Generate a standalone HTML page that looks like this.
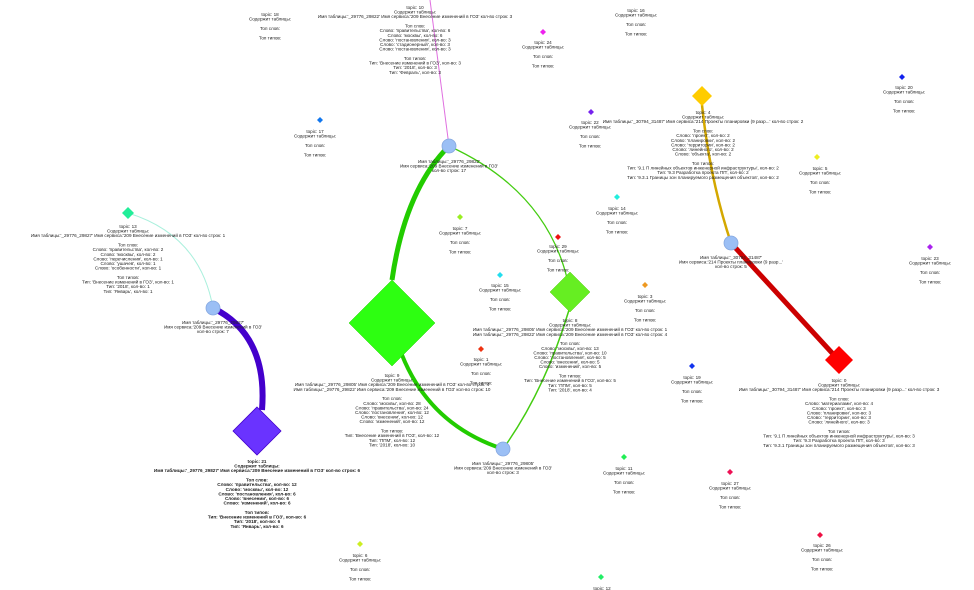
<!DOCTYPE html>
<html><head><meta charset="utf-8"><style>
html,body{margin:0;padding:0;background:#fff;width:974px;height:590px;overflow:hidden}
svg text{font-family:"Liberation Sans",sans-serif;font-size:4.6px;fill:#222;text-anchor:middle}
</style></head><body>
<svg width="974" height="590" viewBox="0 0 974 590" xmlns="http://www.w3.org/2000/svg">
<!-- edges -->
<path d="M449,146 L430,0" stroke="#e070e0" stroke-width="1" fill="none"/>
<path d="M449,146 Q405,190 392,280" stroke="#22cc00" stroke-width="5" fill="none"/>
<path d="M449,146 Q545,190 567,278" stroke="#44cc11" stroke-width="1.3" fill="none"/>
<path d="M402,355 Q430,425 503,449" stroke="#22cc00" stroke-width="4" fill="none"/>
<path d="M503,449 Q545,390 569,310" stroke="#44cc11" stroke-width="1.5" fill="none"/>
<path d="M213,308 Q268,335 262,410" stroke="#4400cc" stroke-width="6" fill="none"/>
<path d="M128,213 Q200,235 213,308" stroke="#aaf0dd" stroke-width="1" fill="none"/>
<path d="M702,105 Q710,180 731,243" stroke="#d4a800" stroke-width="2.5" fill="none"/>
<path d="M731,243 L833,354" stroke="#cc0000" stroke-width="5" fill="none"/>
<!-- circles -->
<g fill="#9bbff5" stroke="#86a8e0" stroke-width="0.8">
<circle cx="449" cy="146" r="7"/><circle cx="213" cy="308" r="7"/><circle cx="503" cy="449" r="7"/><circle cx="731" cy="243" r="7"/>
</g>
<!-- diamonds -->
<polygon points="392,280 435,323 392,366 349,323" fill="#2dff11" stroke="#22cc00" stroke-width="0.5"/>
<polygon points="570,272 590,292 570,312 550,292" fill="#66ee22" stroke="#55cc11" stroke-width="0.5"/>
<polygon points="257,407 281,431 257,455 233,431" fill="#6a33ff" stroke="#4400cc" stroke-width="0.8"/>
<polygon points="839,346 853,360 839,374 825,360" fill="#ff0000"/>
<polygon points="702,86 712,96 702,106 692,96" fill="#ffcc00"/>
<polygon points="128,207 134,213 128,219 122,213" fill="#22ee99"/>
<g>
<polygon points="543,29 546,32 543,35 540,32" fill="#ee22ee"/>
<polygon points="320,117 323,120 320,123 317,120" fill="#1177ee"/>
<polygon points="591,109 594,112 591,115 588,112" fill="#7722ee"/>
<polygon points="902,74 905,77 902,80 899,77" fill="#1122ee"/>
<polygon points="817,154 820,157 817,160 814,157" fill="#eeee22"/>
<polygon points="617,194 620,197 617,200 614,197" fill="#22eedd"/>
<polygon points="460,214 463,217 460,220 457,217" fill="#99ee22"/>
<polygon points="558,234 561,237 558,240 555,237" fill="#ee1111"/>
<polygon points="930,244 933,247 930,250 927,247" fill="#aa22ee"/>
<polygon points="500,272 503,275 500,278 497,275" fill="#22ddee"/>
<polygon points="645,282 648,285 645,288 642,285" fill="#ee9922"/>
<polygon points="481,346 484,349 481,352 478,349" fill="#ee3311"/>
<polygon points="692,363 695,366 692,369 689,366" fill="#1133ee"/>
<polygon points="624,454 627,457 624,460 621,457" fill="#22ee55"/>
<polygon points="730,469 733,472 730,475 727,472" fill="#ee1155"/>
<polygon points="820,532 823,535 820,538 817,535" fill="#ee1144"/>
<polygon points="360,541 363,544 360,547 357,544" fill="#ccee22"/>
<polygon points="601,574 604,577 601,580 598,577" fill="#22ee66"/>
</g>
<!-- simple labels -->
<text x="270" y="16">topic: 18<tspan x="270" dy="4.6">Содержит таблицы:</tspan><tspan x="270" dy="9.4">Топ слов:</tspan><tspan x="270" dy="9.4">Топ типов:</tspan></text>
<text x="636" y="12">topic: 16<tspan x="636" dy="4.6">Содержит таблицы:</tspan><tspan x="636" dy="9.4">Топ слов:</tspan><tspan x="636" dy="9.4">Топ типов:</tspan></text>
<text x="543" y="44">topic: 24<tspan x="543" dy="4.6">Содержит таблицы:</tspan><tspan x="543" dy="9.4">Топ слов:</tspan><tspan x="543" dy="9.4">Топ типов:</tspan></text>
<text x="315" y="133">topic: 17<tspan x="315" dy="4.6">Содержит таблицы:</tspan><tspan x="315" dy="9.4">Топ слов:</tspan><tspan x="315" dy="9.4">Топ типов:</tspan></text>
<text x="590" y="124">topic: 22<tspan x="590" dy="4.6">Содержит таблицы:</tspan><tspan x="590" dy="9.4">Топ слов:</tspan><tspan x="590" dy="9.4">Топ типов:</tspan></text>
<text x="904" y="89">topic: 20<tspan x="904" dy="4.6">Содержит таблицы:</tspan><tspan x="904" dy="9.4">Топ слов:</tspan><tspan x="904" dy="9.4">Топ типов:</tspan></text>
<text x="820" y="170">topic: 5<tspan x="820" dy="4.6">Содержит таблицы:</tspan><tspan x="820" dy="9.4">Топ слов:</tspan><tspan x="820" dy="9.4">Топ типов:</tspan></text>
<text x="617" y="210">topic: 14<tspan x="617" dy="4.6">Содержит таблицы:</tspan><tspan x="617" dy="9.4">Топ слов:</tspan><tspan x="617" dy="9.4">Топ типов:</tspan></text>
<text x="460" y="230">topic: 7<tspan x="460" dy="4.6">Содержит таблицы:</tspan><tspan x="460" dy="9.4">Топ слов:</tspan><tspan x="460" dy="9.4">Топ типов:</tspan></text>
<text x="558" y="248">topic: 29<tspan x="558" dy="4.6">Содержит таблицы:</tspan><tspan x="558" dy="9.4">Топ слов:</tspan><tspan x="558" dy="9.4">Топ типов:</tspan></text>
<text x="930" y="260">topic: 23<tspan x="930" dy="4.6">Содержит таблицы:</tspan><tspan x="930" dy="9.4">Топ слов:</tspan><tspan x="930" dy="9.4">Топ типов:</tspan></text>
<text x="500" y="287">topic: 15<tspan x="500" dy="4.6">Содержит таблицы:</tspan><tspan x="500" dy="9.4">Топ слов:</tspan><tspan x="500" dy="9.4">Топ типов:</tspan></text>
<text x="645" y="298">topic: 3<tspan x="645" dy="4.6">Содержит таблицы:</tspan><tspan x="645" dy="9.4">Топ слов:</tspan><tspan x="645" dy="9.4">Топ типов:</tspan></text>
<text x="481" y="361">topic: 1<tspan x="481" dy="4.6">Содержит таблицы:</tspan><tspan x="481" dy="9.4">Топ слов:</tspan><tspan x="481" dy="9.4">Топ типов:</tspan></text>
<text x="692" y="379">topic: 19<tspan x="692" dy="4.6">Содержит таблицы:</tspan><tspan x="692" dy="9.4">Топ слов:</tspan><tspan x="692" dy="9.4">Топ типов:</tspan></text>
<text x="624" y="470">topic: 11<tspan x="624" dy="4.6">Содержит таблицы:</tspan><tspan x="624" dy="9.4">Топ слов:</tspan><tspan x="624" dy="9.4">Топ типов:</tspan></text>
<text x="730" y="485">topic: 27<tspan x="730" dy="4.6">Содержит таблицы:</tspan><tspan x="730" dy="9.4">Топ слов:</tspan><tspan x="730" dy="9.4">Топ типов:</tspan></text>
<text x="822" y="547">topic: 26<tspan x="822" dy="4.6">Содержит таблицы:</tspan><tspan x="822" dy="9.4">Топ слов:</tspan><tspan x="822" dy="9.4">Топ типов:</tspan></text>
<text x="360" y="557">topic: 6<tspan x="360" dy="4.6">Содержит таблицы:</tspan><tspan x="360" dy="9.4">Топ слов:</tspan><tspan x="360" dy="9.4">Топ типов:</tspan></text>
<text x="602" y="590">topic: 12</text>
<!-- circle labels -->
<text x="449" y="163">Имя таблицы:'_29776_29822'<tspan x="449" dy="4.6">Имя сервиса:'209 Внесение изменений в ГОЗ'</tspan><tspan x="449" dy="4.6">кол-во строк: 17</tspan></text>
<text x="213" y="324">Имя таблицы:'_29776_29827'<tspan x="213" dy="4.6">Имя сервиса:'209 Внесение изменений в ГОЗ'</tspan><tspan x="213" dy="4.6">кол-во строк: 7</tspan></text>
<text x="503" y="465">Имя таблицы:'_29776_29805'<tspan x="503" dy="4.6">Имя сервиса:'209 Внесение изменений в ГОЗ'</tspan><tspan x="503" dy="4.6">кол-во строк: 3</tspan></text>
<text x="731" y="259">Имя таблицы:'_30794_31487'<tspan x="731" dy="4.6">Имя сервиса:'214 Проекты планировки (9 разр...'</tspan><tspan x="731" dy="4.6">кол-во строк: 5</tspan></text>
<!-- big labels -->
<text x="415" y="9">topic: 10<tspan x="415" dy="4.6">Содержит таблицы:</tspan><tspan x="415" dy="4.6">Имя таблицы:'_29776_29822' Имя сервиса:'209 Внесение изменений в ГОЗ' кол-во строк: 3</tspan><tspan x="415" dy="9.4">Топ слов:</tspan><tspan x="415" dy="4.6">Слово: 'правительства', кол-во: 6</tspan><tspan x="415" dy="4.6">Слово: 'москвы', кол-во: 6</tspan><tspan x="415" dy="4.6">Слово: 'постановления', кол-во: 3</tspan><tspan x="415" dy="4.6">Слово: 'стадионерный', кол-во: 3</tspan><tspan x="415" dy="4.6">Слово: 'постановления', кол-во: 3</tspan><tspan x="415" dy="9.4">Топ типов:</tspan><tspan x="415" dy="4.6">Тип: 'Внесение изменений в ГОЗ', кол-во: 3</tspan><tspan x="415" dy="4.6">Тип: '2018', кол-во: 3</tspan><tspan x="415" dy="4.6">Тип: 'Февраль', кол-во: 3</tspan></text>
<text x="703" y="114">topic: 4<tspan x="703" dy="4.6">Содержит таблицы:</tspan><tspan x="703" dy="4.6">Имя таблицы:'_30794_31487' Имя сервиса:'214 Проекты планировки (9 разр...' кол-во строк: 2</tspan><tspan x="703" dy="9.4">Топ слов:</tspan><tspan x="703" dy="4.6">Слово: 'проект', кол-во: 2</tspan><tspan x="703" dy="4.6">Слово: 'планировки', кол-во: 2</tspan><tspan x="703" dy="4.6">Слово: 'территории', кол-во: 2</tspan><tspan x="703" dy="4.6">Слово: 'линейного', кол-во: 2</tspan><tspan x="703" dy="4.6">Слово: 'объекта', кол-во: 2</tspan><tspan x="703" dy="9.4">Топ типов:</tspan><tspan x="703" dy="4.6">Тип: '9.1 П линейных объектов инженерной инфраструктуры', кол-во: 2</tspan><tspan x="703" dy="4.6">Тип: '9.3 Разработка проекта ПП', кол-во: 2</tspan><tspan x="703" dy="4.6">Тип: '9.3.1 Границы зон планируемого размещения объектов', кол-во: 2</tspan></text>
<text x="128" y="228">topic: 13<tspan x="128" dy="4.6">Содержит таблицы:</tspan><tspan x="128" dy="4.6">Имя таблицы:'_29776_29827' Имя сервиса:'209 Внесение изменений в ГОЗ' кол-во строк: 1</tspan><tspan x="128" dy="9.4">Топ слов:</tspan><tspan x="128" dy="4.6">Слово: 'правительства', кол-во: 2</tspan><tspan x="128" dy="4.6">Слово: 'москвы', кол-во: 2</tspan><tspan x="128" dy="4.6">Слово: 'перечисления', кол-во: 1</tspan><tspan x="128" dy="4.6">Слово: 'ушачев', кол-во: 1</tspan><tspan x="128" dy="4.6">Слово: 'особенности', кол-во: 1</tspan><tspan x="128" dy="9.4">Топ типов:</tspan><tspan x="128" dy="4.6">Тип: 'Внесение изменений в ГОЗ', кол-во: 1</tspan><tspan x="128" dy="4.6">Тип: '2018', кол-во: 1</tspan><tspan x="128" dy="4.6">Тип: 'Январь', кол-во: 1</tspan></text>
<text x="570" y="322">topic: 8<tspan x="570" dy="4.6">Содержит таблицы:</tspan><tspan x="570" dy="4.6">Имя таблицы:'_29776_29805' Имя сервиса:'209 Внесение изменений в ГОЗ' кол-во строк: 1</tspan><tspan x="570" dy="4.6">Имя таблицы:'_29776_29822' Имя сервиса:'209 Внесение изменений в ГОЗ' кол-во строк: 4</tspan><tspan x="570" dy="9.4">Топ слов:</tspan><tspan x="570" dy="4.6">Слово: 'москвы', кол-во: 13</tspan><tspan x="570" dy="4.6">Слово: 'правительства', кол-во: 10</tspan><tspan x="570" dy="4.6">Слово: 'постановления', кол-во: 5</tspan><tspan x="570" dy="4.6">Слово: 'внесении', кол-во: 5</tspan><tspan x="570" dy="4.6">Слово: 'изменений', кол-во: 5</tspan><tspan x="570" dy="9.4">Топ типов:</tspan><tspan x="570" dy="4.6">Тип: 'Внесение изменений в ГОЗ', кол-во: 5</tspan><tspan x="570" dy="4.6">Тип: 'ППМ', кол-во: 5</tspan><tspan x="570" dy="4.6">Тип: '2018', кол-во: 4</tspan></text>
<text x="392" y="377">topic: 9<tspan x="392" dy="4.6">Содержит таблицы:</tspan><tspan x="392" dy="4.6">Имя таблицы:'_29776_29805' Имя сервиса:'209 Внесение изменений в ГОЗ' кол-во строк: 4</tspan><tspan x="392" dy="4.6">Имя таблицы:'_29776_29822' Имя сервиса:'209 Внесение изменений в ГОЗ' кол-во строк: 10</tspan><tspan x="392" dy="9.4">Топ слов:</tspan><tspan x="392" dy="4.6">Слово: 'москвы', кол-во: 28</tspan><tspan x="392" dy="4.6">Слово: 'правительства', кол-во: 24</tspan><tspan x="392" dy="4.6">Слово: 'постановления', кол-во: 12</tspan><tspan x="392" dy="4.6">Слово: 'внесении', кол-во: 12</tspan><tspan x="392" dy="4.6">Слово: 'изменений', кол-во: 12</tspan><tspan x="392" dy="9.4">Топ типов:</tspan><tspan x="392" dy="4.6">Тип: 'Внесение изменений в ГОЗ', кол-во: 12</tspan><tspan x="392" dy="4.6">Тип: 'ППМ', кол-во: 12</tspan><tspan x="392" dy="4.6">Тип: '2018', кол-во: 10</tspan></text>
<text x="839" y="382">topic: 0<tspan x="839" dy="4.6">Содержит таблицы:</tspan><tspan x="839" dy="4.6">Имя таблицы:'_30794_31487' Имя сервиса:'214 Проекты планировки (9 разр...' кол-во строк: 3</tspan><tspan x="839" dy="9.4">Топ слов:</tspan><tspan x="839" dy="4.6">Слово: 'материалами', кол-во: 4</tspan><tspan x="839" dy="4.6">Слово: 'проект', кол-во: 3</tspan><tspan x="839" dy="4.6">Слово: 'планировки', кол-во: 3</tspan><tspan x="839" dy="4.6">Слово: 'территории', кол-во: 3</tspan><tspan x="839" dy="4.6">Слово: 'линейного', кол-во: 3</tspan><tspan x="839" dy="9.4">Топ типов:</tspan><tspan x="839" dy="4.6">Тип: '9.1 П линейных объектов инженерной инфраструктуры', кол-во: 3</tspan><tspan x="839" dy="4.6">Тип: '9.3 Разработка проекта ПП', кол-во: 3</tspan><tspan x="839" dy="4.6">Тип: '9.3.1 Границы зон планируемого размещения объектов', кол-во: 3</tspan></text>
<text x="257" y="463" style="font-weight:bold">topic: 21<tspan x="257" dy="4.6">Содержит таблицы:</tspan><tspan x="257" dy="4.6">Имя таблицы:'_29776_29827' Имя сервиса:'209 Внесение изменений в ГОЗ' кол-во строк: 6</tspan><tspan x="257" dy="9.4">Топ слов:</tspan><tspan x="257" dy="4.6">Слово: 'правительства', кол-во: 12</tspan><tspan x="257" dy="4.6">Слово: 'москвы', кол-во: 12</tspan><tspan x="257" dy="4.6">Слово: 'постановления', кол-во: 6</tspan><tspan x="257" dy="4.6">Слово: 'внесении', кол-во: 6</tspan><tspan x="257" dy="4.6">Слово: 'изменений', кол-во: 6</tspan><tspan x="257" dy="9.4">Топ типов:</tspan><tspan x="257" dy="4.6">Тип: 'Внесение изменений в ГОЗ', кол-во: 6</tspan><tspan x="257" dy="4.6">Тип: '2018', кол-во: 6</tspan><tspan x="257" dy="4.6">Тип: 'Январь', кол-во: 6</tspan></text>
</svg>
</body></html>
